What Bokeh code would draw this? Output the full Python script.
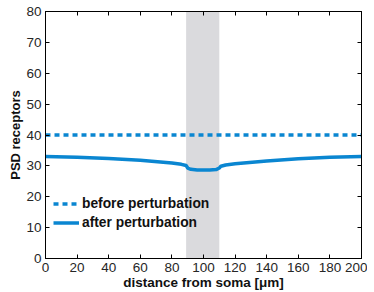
from bokeh.plotting import figure
from bokeh.models import BoxAnnotation, LinearAxis, Range1d, Legend, LegendItem, FixedTicker
from bokeh.embed import file_html
from bokeh.resources import INLINE

# data
x_before = [0, 200]
y_before = [40, 40]
x_after = [0, 20, 40, 60, 80, 86, 89, 90, 92, 96, 100, 104, 108, 110, 111, 114, 120, 140, 160, 180, 200]
y_after = [33.0, 32.8, 32.4, 31.8, 30.9, 30.5, 30.1, 29.3, 28.9, 28.7, 28.7, 28.7, 28.8, 29.3, 29.9, 30.3, 30.7, 31.6, 32.3, 32.8, 33.0]
band = [89, 110]
x_ticks = [0, 20, 40, 60, 80, 100, 120, 140, 160, 180, 200]
y_ticks = [0, 10, 20, 30, 40, 50, 60, 70, 80]

BLUE = "#0a86d1"
TXT = "#262626"
FONT = "Liberation Sans"

p = figure(width=367, height=292, output_backend="svg", toolbar_location=None,
           x_range=Range1d(0, 200), y_range=Range1d(0, 80),
           min_border_left=45, min_border_top=11, min_border_right=6, min_border_bottom=33)
p.xgrid.visible = False
p.ygrid.visible = False
p.outline_line_color = "black"
p.outline_line_width = 1
p.background_fill_color = "white"
p.border_fill_color = "white"

p.add_layout(BoxAnnotation(left=band[0], right=band[1], fill_color="#dadadd", fill_alpha=1.0,
                           line_color=None, level="underlay"))

r1 = p.line(x_before, y_before, line_color=BLUE, line_width=3.5, line_dash="5 4")
r2 = p.line(x_after, y_after, line_color=BLUE, line_width=3.5)

for ax in [p.xaxis[0], p.yaxis[0]]:
    ax.major_tick_in = 4
    ax.major_tick_out = 0
    ax.minor_tick_line_color = None
    ax.axis_line_color = "black"
    ax.major_label_text_font = FONT
    ax.major_label_text_font_size = "13.5px"
    ax.major_label_text_color = TXT
    ax.axis_label_text_font = FONT
    ax.axis_label_text_font_size = "13.5px"
    ax.axis_label_text_font_style = "bold"
    ax.axis_label_text_color = "#111111"
p.xaxis[0].ticker = FixedTicker(ticks=x_ticks)
p.yaxis[0].ticker = FixedTicker(ticks=y_ticks)
p.yaxis[0].axis_label_text_font_size = "13px"
p.xaxis[0].axis_label = "distance from soma [\u03bcm]"
p.yaxis[0].axis_label = "PSD receptors"
p.xaxis[0].major_label_standoff = 4
p.xaxis[0].axis_label_standoff = 0
p.yaxis[0].major_label_standoff = 4
p.yaxis[0].axis_label_standoff = 0

for loc, ticks in [("above", x_ticks), ("right", y_ticks)]:
    a = LinearAxis(ticker=FixedTicker(ticks=ticks))
    a.major_tick_in = 4
    a.major_tick_out = 0
    a.minor_tick_line_color = None
    a.major_label_overrides = {t: "" for t in ticks}
    a.major_label_standoff = 0
    a.axis_line_color = "black"
    p.add_layout(a, loc)

leg = Legend(items=[LegendItem(label="before perturbation", renderers=[r1]),
                    LegendItem(label="after perturbation", renderers=[r2])],
             location=(8, 27), padding=0, margin=0, spacing=2,
             glyph_width=26, glyph_height=17, label_standoff=3,
             label_text_font=FONT, label_text_font_size="13.8px", label_text_font_style="bold",
             label_text_color="#111111", border_line_color=None, background_fill_alpha=0)
p.add_layout(leg)

open("out.html", "w").write(file_html(p, INLINE))
